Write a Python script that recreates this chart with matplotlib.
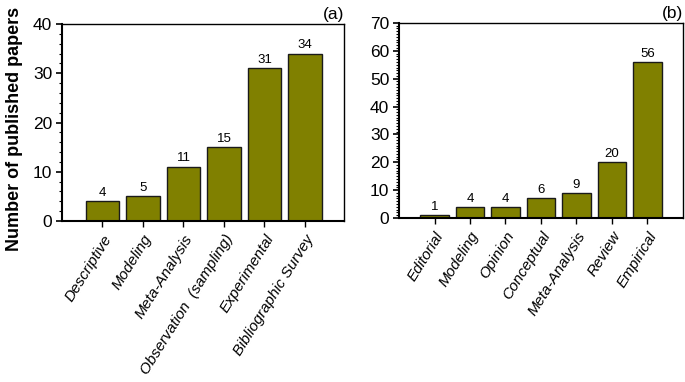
import matplotlib
matplotlib.use("Agg")
import matplotlib.pyplot as plt
from matplotlib.ticker import MultipleLocator

plt.rcParams['font.family'] = ['Liberation Sans', 'DejaVu Sans']

# panel (a)
cats_a = ['Descriptive', 'Modeling', 'Meta-Analysis', 'Observation  (sampling)',
          'Experimental', 'Bibliographic Survey']
vals_a = [4, 5, 11, 15, 31, 34]
labels_a = ['4', '5', '11', '15', '31', '34']

# panel (b)
cats_b = ['Editorial', 'Modeling', 'Opinion', 'Conceptual', 'Meta-Analysis',
          'Review', 'Empirical']
vals_b = [1, 4, 4, 7, 9, 20, 56]
labels_b = ['1', '4', '4', '6', '9', '20', '56']

bar_color = '#808000'


def draw_panel(ax, cats, vals, labels, width, ymax, minor, tag, xmax):
    xs = list(range(1, len(cats) + 1))
    ax.bar(xs, vals, width=width, color=bar_color, edgecolor='#1a1a1a', linewidth=1.0)
    for x, v, t in zip(xs, vals, labels):
        ax.text(x, v + ymax * 0.012, t, ha='center', va='bottom', fontsize=9.5)
    ax.set_xlim(0, xmax)
    ax.set_ylim(0, ymax)
    ax.set_xticks(xs)
    ax.set_xticklabels(cats, rotation=58, ha='right', rotation_mode='anchor',
                       fontstyle='italic', fontsize=11)
    ax.yaxis.set_major_locator(MultipleLocator(10))
    ax.yaxis.set_minor_locator(MultipleLocator(minor))
    ax.tick_params(axis='y', which='major', direction='out', length=4, width=1.2,
                   labelsize=12.5, pad=3)
    ax.tick_params(axis='y', which='minor', direction='out', length=2.5, width=0.8)
    ax.tick_params(axis='x', which='major', direction='out', length=4, width=1.0, pad=4)
    for s in ax.spines.values():
        s.set_linewidth(1.0)
    ax.spines['left'].set_linewidth(1.5)
    ax.spines['bottom'].set_linewidth(1.5)
    ax.text(1.0, 1.01, tag, transform=ax.transAxes, ha='right', va='bottom',
            fontsize=12.5)


fig = plt.figure(figsize=(6.85, 3.82), dpi=100)
ax1 = fig.add_axes([0.0905, 0.4215, 0.4115, 0.5155])
ax2 = fig.add_axes([0.5825, 0.4293, 0.4145, 0.5107])

draw_panel(ax1, cats_a, vals_a, labels_a, 0.82, 40, 2, '(a)', 6.96)
draw_panel(ax2, cats_b, vals_b, labels_b, 0.8, 70, 1, '(b)', 8.0)

ax1.set_ylabel('Number of published papers', fontsize=13, fontweight='bold')
ax1.yaxis.set_label_coords(-0.138, 0.467)

fig.savefig('out.png', dpi=100)
